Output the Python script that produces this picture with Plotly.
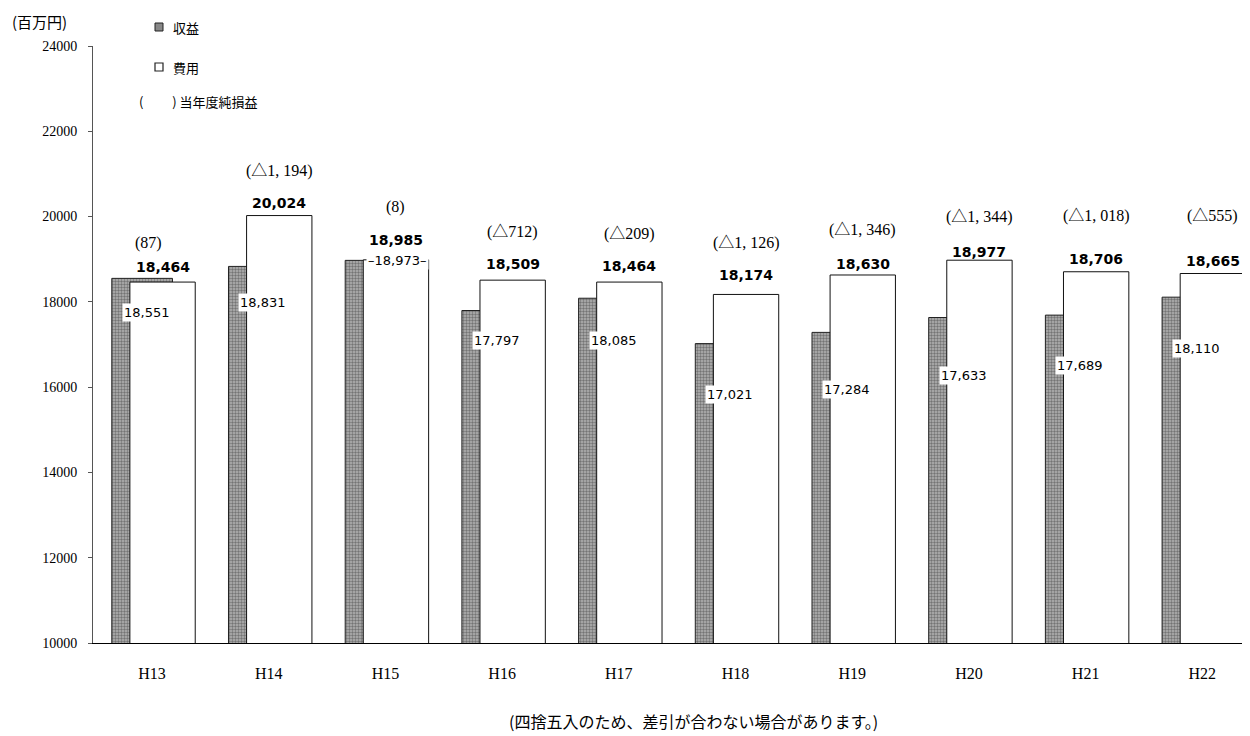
import plotly.graph_objects as go

# --- data (百万円) ---
years = ["H13", "H14", "H15", "H16", "H17", "H18", "H19", "H20", "H21", "H22"]
revenue = [18551, 18831, 18973, 17797, 18085, 17021, 17284, 17633, 17689, 18110]
expense = [18464, 20024, 18985, 18509, 18464, 18174, 18630, 18977, 18706, 18665]
net_income = ["(87)", "(△1, 194)", "(8)", "(△712)", "(△209)", "(△1, 126)",
              "(△1, 346)", "(△1, 344)", "(△1, 018)", "(△555)"]

# label tweaks (pixels), not data
rev_label_drop = [34, 36, 0, 30, 42, 51, 57, 58, 50, 51]
exp_label_rise = [15, 13, 20, 16, 16, 19, 11, 8, 13, 13]
net_label_rise = [39, 45, 53, 48, 48, 51, 45, 43, 56, 58]
net_label_dx = [-14, 0, 0, 0, 0, 0, 0, 0, 0, 0]

JP = "Noto Sans CJK JP"
SERIF = "Liberation Serif, Noto Sans CJK JP"
GOTHIC = "DejaVu Sans"

# page has an 8px body margin: work in screen pixels, shift into the figure
OFF = 8
W_FIG, H_FIG = 1242, 728
L, T, B = 93 - OFF, 46 - OFF, 643 - OFF  # plot box inside the figure
PX_PER_CAT = 116.7


def px(x):
    return (x - OFF - L) / (W_FIG - L)


def py(y):
    return (B - (y - OFF)) / (B - T)


x_lo = -0.506
x_hi = x_lo + (W_FIG - L) / PX_PER_CAT

fig = go.Figure()

# revenue: grey stippled bar, drawn underneath
fig.add_trace(go.Bar(
    x=years, y=revenue, name="収益",
    offset=-0.345, width=0.52,
    marker=dict(color="#a8a8a8",
                line=dict(color="#222", width=1),
                pattern=dict(shape=".", fgcolor="#333", bgcolor="#b4b4b4",
                             size=3, solidity=0.5)),
    hoverinfo="skip", showlegend=False,
))

# expense: white bar on top
fig.add_trace(go.Bar(
    x=years, y=expense, name="費用",
    offset=-0.19, width=0.56,
    marker=dict(color="white", line=dict(color="#111", width=1)),
    hoverinfo="skip", showlegend=False,
))

for i, yr in enumerate(years):
    # expense value, bold above the bar
    fig.add_annotation(
        x=i + 0.09, y=expense[i], text=f"<b>{expense[i]:,}</b>",
        showarrow=False, yanchor="middle", yshift=exp_label_rise[i],
        font=dict(family=GOTHIC, size=14, color="black"),
    )
    # revenue value, inside the white bar
    if rev_label_drop[i] == 0:
        fig.add_annotation(
            x=i + 0.1, y=revenue[i], text=f"–{revenue[i]:,}–",
            showarrow=False, yanchor="middle", bgcolor="white",
            font=dict(family=GOTHIC, size=13, color="black"),
        )
    else:
        fig.add_annotation(
            x=i - 0.26, y=revenue[i], text=f"{revenue[i]:,}",
            showarrow=False, xanchor="left", yanchor="middle",
            bgcolor="white", borderpad=1, yshift=-rev_label_drop[i],
            font=dict(family=GOTHIC, size=13, color="black"),
        )
    # net income in parentheses
    fig.add_annotation(
        x=i + 0.09, y=expense[i], text=net_income[i],
        showarrow=False, yanchor="middle",
        yshift=net_label_rise[i], xshift=net_label_dx[i],
        font=dict(family=SERIF, size=16, color="black"),
    )

# --- custom legend ---
fig.add_shape(type="rect", xref="paper", yref="paper",
              x0=px(155), x1=px(163), y0=py(31), y1=py(23),
              fillcolor="#888", line=dict(color="#222", width=1))
fig.add_shape(type="rect", xref="paper", yref="paper",
              x0=px(155), x1=px(163), y0=py(71), y1=py(63),
              fillcolor="white", line=dict(color="#222", width=1.2))
for text, x, y in [("収益", 171, 27), ("費用", 171, 67),
                   ("(　　 ) 当年度純損益", 137, 101)]:
    fig.add_annotation(xref="paper", yref="paper", x=px(x), y=py(y),
                       text=text, showarrow=False,
                       xanchor="left", yanchor="middle",
                       font=dict(family=JP, size=13, color="black"))

fig.add_annotation(xref="paper", yref="paper", x=px(10), y=py(21),
                   text="(百万円)", showarrow=False,
                   xanchor="left", yanchor="middle",
                   font=dict(family=JP, size=15, color="black"))

fig.add_annotation(xref="paper", yref="paper", x=px(880), y=py(721),
                   text="(四捨五入のため、差引が合わない場合があります。)",
                   showarrow=False, yanchor="middle",
                   font=dict(family=JP, size=16, color="black"))

fig.update_layout(
    width=W_FIG, height=H_FIG,
    barmode="overlay",
    plot_bgcolor="white", paper_bgcolor="white",
    margin=dict(l=L, r=0, t=T, b=H_FIG - B),
    xaxis=dict(
        type="category", range=[x_lo, x_hi],
        showline=True, linecolor="black", linewidth=1,
        ticks="", showgrid=False,
        tickfont=dict(family=SERIF, size=16, color="black"),
        ticklabelstandoff=16,
    ),
    yaxis=dict(
        range=[10000, 24000], tickvals=list(range(10000, 24001, 2000)),
        tickformat="d",
        showline=True, linecolor="#555", linewidth=1,
        ticks="outside", ticklen=4, tickcolor="#555",
        showgrid=False, zeroline=False,
        tickfont=dict(family=SERIF, size=14, color="black"),
        ticklabelstandoff=8,
    ),
    font=dict(family=JP, color="black"),
)

fig.write_html("out.html")
